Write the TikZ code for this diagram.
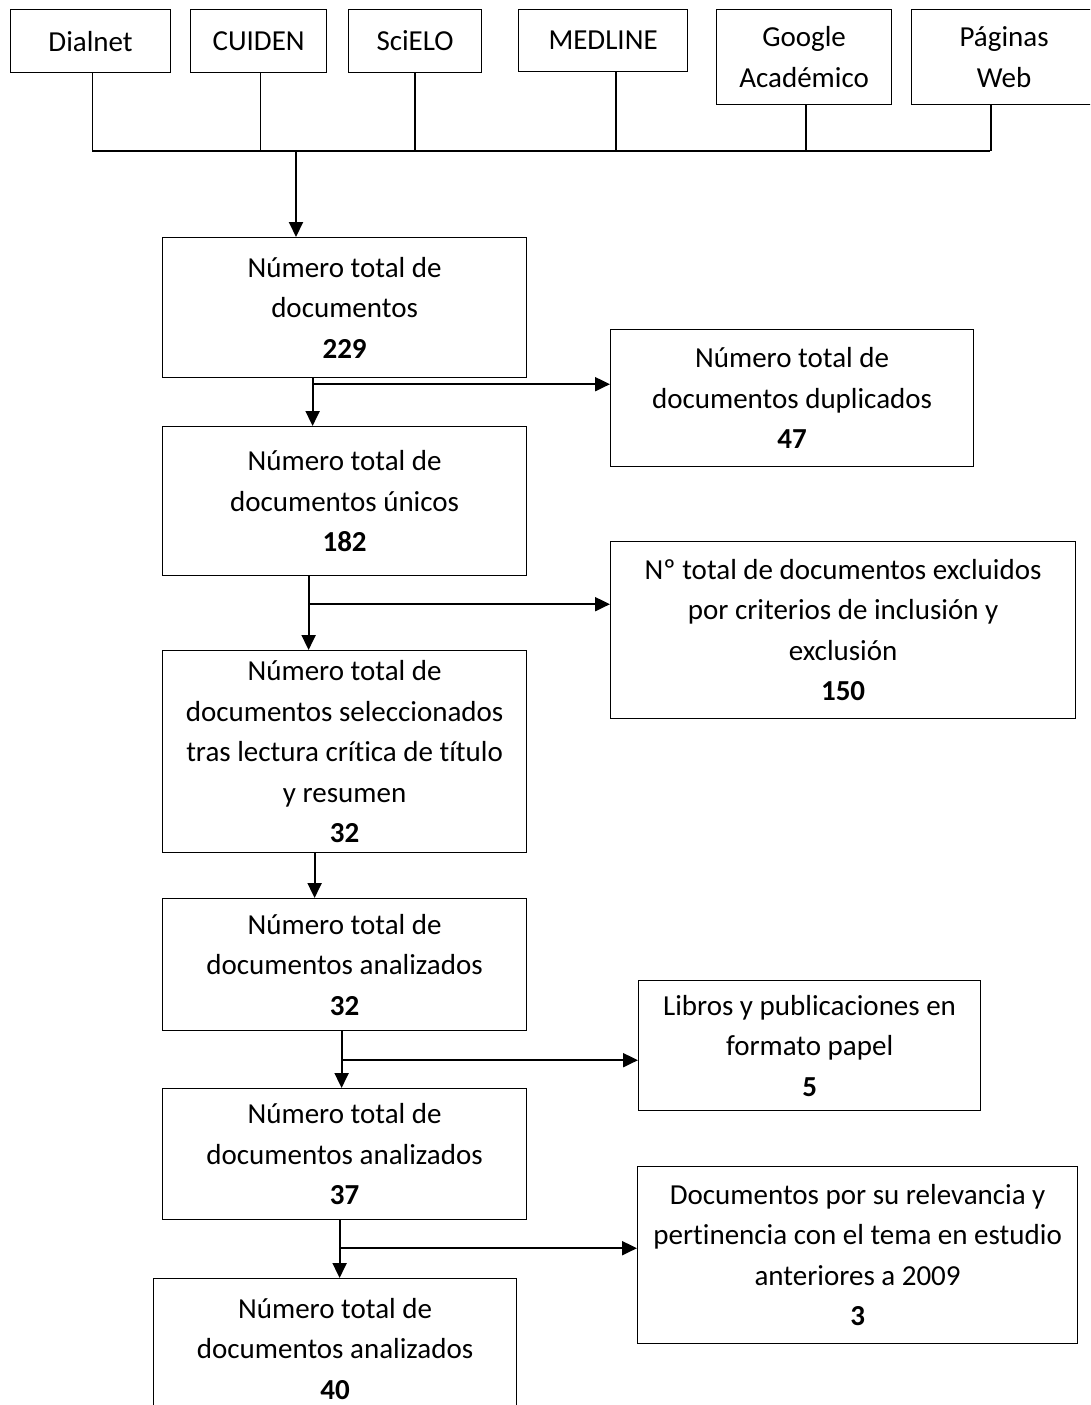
\documentclass[tikz,border=0pt]{standalone}
\usepackage{fontspec}
\setmainfont{Carlito}[Ligatures=NoCommon]
\usetikzlibrary{arrows.meta,positioning,calc}
\tikzset{
  % Define standard arrow tip
  >={Triangle[length=15pt,width=14pt]},
  % Define style for boxes
  box/.style={
    rectangle,
    draw=black, line width=1.2pt,
    anchor=north west,
    inner sep=0pt,
    align=center,
    font=\fontsize{29}{40.5}\selectfont},
  % Define box size
  boxsize/.style 2 args={minimum width=#1pt, minimum height=#2pt},
  % Define arrow style
  arrow/.style={
    ->,
    line width=2pt},
  % line
  line/.style = {draw, line width=1.5pt},
}

\begin{document}
\begin{tikzpicture}[x=1pt, y=-1pt]
  \useasboundingbox (0,0) rectangle (1090,1405);
  \clip (0,0) rectangle (1090,1405);
  % sources
  \node[box, boxsize={160}{63}] (dialnet) at (10,9) {Dialnet};
  \node[box, boxsize={136}{63}] (cuiden) at (190,9) {CUIDEN};
  \node[box, boxsize={133}{63}] (scielo) at (348,9) {SciELO};
  \node[box, boxsize={169}{62}] (medline) at (518,9) {MEDLINE};
  \node[box, boxsize={175}{95}] (google) at (716,9) {Google\\Académico};
  \node[box, boxsize={185}{95}] (paginas) at (911,9) {Páginas\\Web};
  % main column
  \node[box, boxsize={364}{140}] (total) at (162,237) {Número total de\\documentos\\\textbf{229}};
  \node[box, boxsize={364}{149}] (unicos) at (162,426) {Número total de\\documentos únicos\\\textbf{182}};
  \node[box, boxsize={364}{202}] (selec) at (162,650) {Número total de\\documentos seleccionados\\tras lectura crítica de título\\y resumen\\\textbf{32}};
  \node[box, boxsize={364}{132}] (anal1) at (162,898) {Número total de\\documentos analizados\\\textbf{32}};
  \node[box, boxsize={364}{131}] (anal2) at (162,1088) {Número total de\\documentos analizados\\\textbf{37}};
  \node[box, boxsize={363}{140}] (anal3) at (153,1278) {Número total de\\documentos analizados\\\textbf{40}};
  % side boxes
  \node[box, boxsize={363}{137}] (dupl) at (610,329) {Número total de\\documentos duplicados\\\textbf{47}};
  \node[box, boxsize={465}{177}] (excl) at (610,541) {Nº total de documentos excluidos\\por criterios de inclusión y\\exclusión\\\textbf{150}};
  \node[box, boxsize={342}{130}] (libros) at (638,980) {Libros y publicaciones en\\formato papel\\\textbf{5}};
  \node[box, boxsize={440}{177}] (relev) at (637,1166) {Documentos por su relevancia y\\pertinencia con el tema en estudio\\anteriores a 2009\\\textbf{3}};
  % collecting line
  \coordinate (busL) at (92,151);
  \coordinate (busR) at (990,151);
  \coordinate (busM) at (296,151);
  \path[line] (busL) -- (busR);
  \foreach \src/\dx in {dialnet/2, cuiden/2, scielo/0, medline/13, google/2, paginas/-13}
    \path[line] ([xshift=\dx pt]\src.south) -- ([xshift=\dx pt]\src.south |- busL);
  \draw[arrow] (busM) -- (busM |- total.north);
  % flow
  \draw[arrow] ([xshift=-32pt]total.south) coordinate (a1) -- (a1 |- unicos.north);
  \draw[arrow] ([xshift=-32pt,yshift=-6pt]total.south) coordinate (b1) -- (b1 -| dupl.west);
  \draw[arrow] ([xshift=-36pt]unicos.south) coordinate (a2) -- (a2 |- selec.north);
  \draw[arrow] ([xshift=-36pt,yshift=-28pt]unicos.south) coordinate (b2) -- (b2 -| excl.west);
  \draw[arrow] ([xshift=-30pt]selec.south) coordinate (a3) -- (a3 |- anal1.north);
  \draw[arrow] ([xshift=-3pt]anal1.south) coordinate (a4) -- (a4 |- anal2.north);
  \draw[arrow] ([xshift=-3pt,yshift=-29pt]anal1.south) coordinate (b4) -- (b4 -| libros.west);
  \draw[arrow] ([xshift=-5pt]anal2.south) coordinate (a5) -- (a5 |- anal3.north);
  \draw[arrow] ([xshift=-5pt,yshift=-28pt]anal2.south) coordinate (b5) -- (b5 -| relev.west);
\end{tikzpicture}
\end{document}
